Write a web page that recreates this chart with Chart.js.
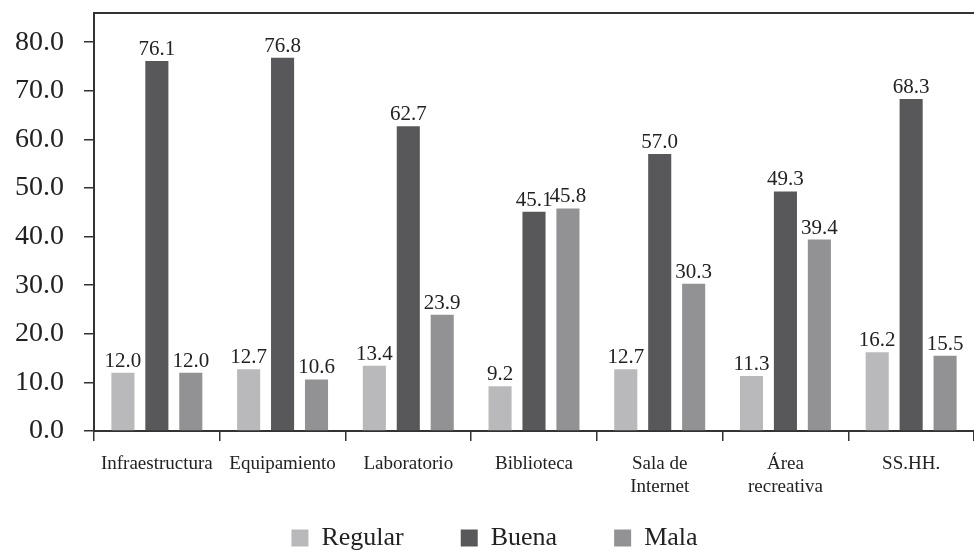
<!DOCTYPE html>
<html>
<head>
<meta charset="utf-8">
<script src="https://cdn.jsdelivr.net/npm/chart.js@4/dist/chart.umd.min.js"></script>
<style>
html,body{margin:0;padding:0;background:#fff;}
#wrap{width:974px;height:551px;position:relative;}
</style>
</head>
<body>
<div id="wrap"><canvas id="c" width="974" height="551"></canvas></div>
<script>
const categories = ["Infraestructura", "Equipamiento", "Laboratorio", "Biblioteca", ["Sala de", "Internet"], ["Área", "recreativa"], "SS.HH."];
const regular = [12.0, 12.7, 13.4, 9.2, 12.7, 11.3, 16.2];
const buena   = [76.1, 76.8, 62.7, 45.1, 57.0, 49.3, 68.3];
const mala    = [12.0, 10.6, 23.9, 45.8, 30.3, 39.4, 15.5];
const seriesNames = ["Regular", "Buena", "Mala"];
const yTickValues = [0, 10, 20, 30, 40, 50, 60, 70, 80];

const serif = "'Liberation Serif', 'DejaVu Serif', serif";
const ink = "#222";
const LEGEND_PAD = 57;

const valueLabels = {
  id: 'valueLabels',
  afterDatasetsDraw(chart) {
    const ctx = chart.ctx;
    ctx.save();
    ctx.font = "21px " + serif;
    ctx.fillStyle = ink;
    ctx.textAlign = 'center';
    ctx.textBaseline = 'bottom';
    chart.data.datasets.forEach((ds, i) => {
      const meta = chart.getDatasetMeta(i);
      meta.data.forEach((el, j) => {
        ctx.fillText(ds.data[j].toFixed(1), el.x, el.y - 1);
      });
    });
    ctx.restore();
  }
};

const topFrame = {
  id: 'topFrame',
  afterLayout(chart) {
    // let the two-line category labels overflow the shortened axis box
    chart.scales.x.bottom = chart.height;
  },
  afterDraw(chart) {
    const a = chart.chartArea, ctx = chart.ctx;
    ctx.save();
    ctx.strokeStyle = "#333";
    ctx.lineWidth = 2;
    ctx.beginPath();
    ctx.moveTo(a.left - 1, a.top);
    ctx.lineTo(chart.width, a.top);
    ctx.stroke();
    ctx.restore();
  }
};

new Chart(document.getElementById('c'), {
  type: 'bar',
  data: {
    labels: categories,
    datasets: [
      { label: seriesNames[0], data: regular, backgroundColor: "#b9b9bb" },
      { label: seriesNames[1], data: buena, backgroundColor: "#58585a" },
      { label: seriesNames[2], data: mala, backgroundColor: "#929294" }
    ]
  },
  options: {
    responsive: false,
    animation: false,
    layout: { padding: { left: 15, right: 0, top: 13, bottom: -10 } },
    datasets: { bar: { categoryPercentage: 0.81, barPercentage: 0.68 } },
    plugins: {
      tooltip: { enabled: false },
      legend: {
        position: 'bottom',
        labels: {
          font: { family: serif, size: 26 },
          color: ink,
          boxWidth: 17,
          boxHeight: 17,
          padding: LEGEND_PAD
        }
      }
    },
    scales: {
      x: {
        offset: true,
        afterFit: (axis) => { axis.height = 37; },
        grid: { offset: true, drawOnChartArea: false, drawTicks: true, tickLength: 10, color: "#333", lineWidth: 1.5 },
        border: { color: "#333", width: 2 },
        ticks: { font: { family: serif, size: 19 }, color: ink, padding: 12, maxRotation: 0, autoSkip: false }
      },
      y: {
        min: 0,
        max: 86,
        afterBuildTicks: (axis) => { axis.ticks = yTickValues.map(v => ({ value: v })); },
        grid: {
          drawOnChartArea: false, drawTicks: true, tickLength: 30,
          tickBorderDash: [0, 20, 20], color: "#333", lineWidth: 1.5
        },
        border: { color: "#333", width: 2 },
        ticks: {
          font: { family: serif, size: 28, lineHeight: 0.3 },
          color: ink,
          padding: 0,
          callback: (v) => Number(v).toFixed(1)
        }
      }
    }
  },
  plugins: [valueLabels, topFrame]
});
</script>
</body>
</html>
